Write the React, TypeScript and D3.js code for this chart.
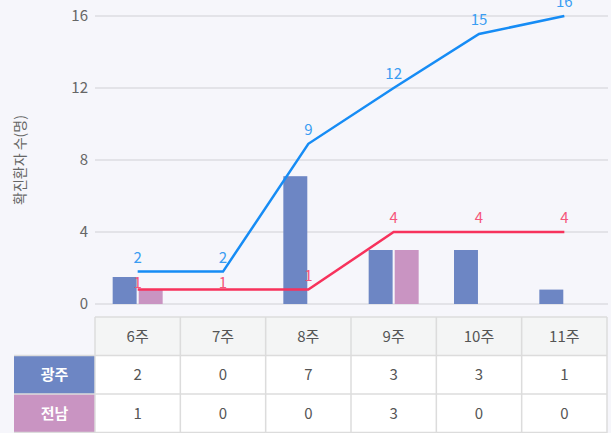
import * as d3 from 'd3';

const categories = ['6주', '7주', '8주', '9주', '10주', '11주'];
const seriesNames = ['광주', '전남'];
const gwangjuBars = [1.5, 0, 7.1, 3, 3, 0.8];
const jeonnamBars = [0.8, 0, 0, 3, 0, 0];
const gwangjuTable = [2, 0, 7, 3, 3, 1];
const jeonnamTable = [1, 0, 0, 3, 0, 0];
const gwangjuTotal = [1.8, 1.8, 8.9, 12, 15, 16];
const jeonnamTotal = [0.8, 0.8, 0.8, 4, 4, 4];
const yTicks = [0, 4, 8, 12, 16];

const W = 611;
const H = 433;
const FONT = '"Noto Sans CJK KR", "Noto Sans", sans-serif';
const barColors = ['#6d86c4', '#c994c2'];
const lineColors = ['#168cf5', '#f7325c'];
const labelColors = ['#3a9df2', '#f5567b'];

export default function App() {
  const x = d3.scaleBand<string>().domain(categories).range([95, 607]).padding(0);
  const y = d3.scaleLinear().domain([0, 16]).range([304, 16]);
  const inner = d3.scaleBand<string>().domain(seriesNames).range([-25, 25]).paddingInner(0.08);
  const cx = (c: string) => (x(c) ?? 0) + x.bandwidth() / 2;

  const bars = [gwangjuBars, jeonnamBars];
  const totals = [gwangjuTotal, jeonnamTotal];
  const tables = [gwangjuTable, jeonnamTable];

  const line = d3
    .line<number>()
    .x((_, i) => cx(categories[i]))
    .y((d) => y(d));

  // label sits 14px above its point, or tucked in closer when the other line's point is just above
  const labelY = (s: number, i: number) => {
    const py = y(totals[s][i]);
    const crowded = totals.some((o, k) => k !== s && y(o[i]) < py && py - y(o[i]) < 24);
    return py - (crowded ? 7 : 14);
  };

  const rowY = [317, 355.5, 394, 432.5];
  const rowH = rowY[1] - rowY[0];

  return (
    <svg
      width={W}
      height={H}
      style={{ position: 'absolute', left: 0, top: 0, fontFamily: FONT }}
    >
      <rect width={W} height={H} fill="#f6f6fb" />

      {yTicks.map((t) => (
        <g key={t}>
          <line x1={95} x2={608} y1={y(t)} y2={y(t)} stroke="#dddde2" strokeWidth={1.5} />
          <text x={88} y={y(t)} dy="0.35em" textAnchor="end" fontSize={15} fill="#666">
            {t}
          </text>
        </g>
      ))}

      <text
        transform={`translate(20,${y(8)}) rotate(-90)`}
        textAnchor="middle"
        dy="0.35em"
        fontSize={14}
        fill="#666"
      >
        확진환자 수(명)
      </text>

      {bars.map((vals, s) =>
        vals.map((v, i) =>
          v > 0 ? (
            <rect
              key={`${s}-${i}`}
              x={cx(categories[i]) + (inner(seriesNames[s]) ?? 0)}
              y={y(v)}
              width={inner.bandwidth()}
              height={y(0) - y(v)}
              fill={barColors[s]}
            />
          ) : null
        )
      )}

      {totals.map((vals, s) => (
        <g key={s}>
          <path d={line(vals) ?? ''} fill="none" stroke={lineColors[s]} strokeWidth={2.5} />
          {vals.map((v, i) => (
            <text
              key={i}
              x={cx(categories[i])}
              y={labelY(s, i)}
              dy="0.35em"
              textAnchor="middle"
              fontSize={15}
              fill={labelColors[s]}
            >
              {Math.round(v)}
            </text>
          ))}
        </g>
      ))}

      {/* table */}
      <rect x={95} y={rowY[0]} width={512} height={rowH} fill="#f4f5f5" />
      <rect x={95} y={rowY[1]} width={512} height={rowH * 2 + 1} fill="#fff" />
      {seriesNames.map((n, s) => (
        <g key={n}>
          <rect x={14} y={rowY[s + 1]} width={81} height={rowH} fill={barColors[s]} />
          <text
            x={54.5}
            y={rowY[s + 1] + rowH / 2}
            dy="0.35em"
            textAnchor="middle"
            fontSize={15}
            fontWeight="bold"
            fill="#fff"
          >
            {n}
          </text>
        </g>
      ))}
      {rowY.map((ry, r) => (
        <line key={r} x1={r === 0 ? 95 : 14} x2={607} y1={ry} y2={ry} stroke="#dcdcdc" strokeWidth={1.5} />
      ))}
      {[...categories.map((c) => x(c) ?? 0), 607].map((lx, i) => (
        <line key={i} x1={lx} x2={lx} y1={rowY[0]} y2={H} stroke="#dcdcdc" strokeWidth={1.5} />
      ))}
      {categories.map((c, i) => (
        <g key={c}>
          <text x={cx(c)} y={rowY[0] + rowH / 2} dy="0.35em" textAnchor="middle" fontSize={15} fill="#555">
            {c}
          </text>
          {tables.map((t, s) => (
            <text
              key={s}
              x={cx(c)}
              y={rowY[s + 1] + rowH / 2}
              dy="0.35em"
              textAnchor="middle"
              fontSize={15}
              fill="#555"
            >
              {t[i]}
            </text>
          ))}
        </g>
      ))}
    </svg>
  );
}
